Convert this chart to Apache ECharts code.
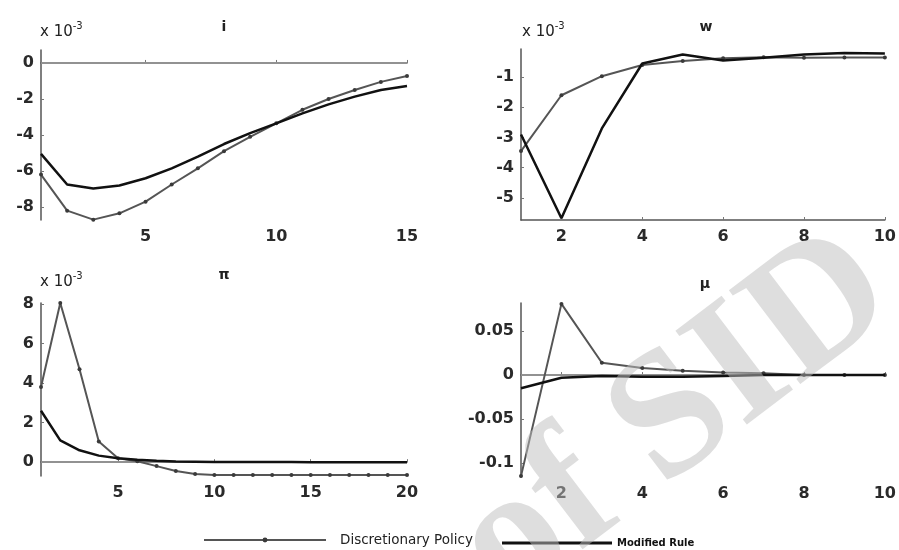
<!DOCTYPE html>
<html>
<head>
<meta charset="utf-8">
<script src="https://cdn.jsdelivr.net/npm/echarts@6/dist/echarts.min.js"></script>
<style>html,body{margin:0;padding:0;background:#fff;}#c{width:899px;height:550px;}</style>
</head>
<body>
<div id="c"></div>
<script>
// ---- data ----
const seriesNames = ['Discretionary Policy', 'Modified Rule'];
const panelTitles = ['i', 'w', 'π', 'μ'];
const watermarkText = 'of SID';

const iX = [1,2,3,4,5,6,7,8,9,10,11,12,13,14,15];
const iDisc = [-6.2,-8.2,-8.7,-8.35,-7.7,-6.75,-5.85,-4.9,-4.1,-3.35,-2.6,-2.0,-1.5,-1.05,-0.72];
const iMod  = [-5.05,-6.75,-6.97,-6.8,-6.4,-5.85,-5.2,-4.5,-3.9,-3.35,-2.8,-2.3,-1.87,-1.5,-1.28];

const wX = [1,2,3,4,5,6,7,8,9,10];
const wDisc = [-3.45,-1.6,-0.97,-0.6,-0.47,-0.38,-0.34,-0.36,-0.35,-0.35];
const wMod  = [-2.9,-5.67,-2.7,-0.55,-0.25,-0.45,-0.36,-0.25,-0.2,-0.22];

const piX = [1,2,3,4,5,6,7,8,9,10,11,12,13,14,15,16,17,18,19,20];
const piDisc = [3.8,8.05,4.7,1.05,0.2,0.05,-0.2,-0.45,-0.6,-0.65,-0.65,-0.65,-0.65,-0.65,-0.65,-0.65,-0.65,-0.65,-0.65,-0.65];
const piMod  = [2.6,1.1,0.6,0.33,0.2,0.12,0.07,0.03,0.02,0.01,0.01,0.01,0.01,0.01,0.0,0.0,0.0,0.0,0.0,0.0];

const muX = [1,2,3,4,5,6,7,8,9,10];
const muDisc = [-0.115,0.081,0.014,0.008,0.005,0.003,0.002,0.0,0.0,0.0];
const muMod  = [-0.015,-0.003,-0.001,-0.002,-0.002,-0.001,0.0,0.0,0.0,0.0];

const xTicks = [[5,10,15],[2,4,6,8,10],[5,10,15,20],[2,4,6,8,10]];
const yTicks = [[-8,-6,-4,-2,0],[-5,-4,-3,-2,-1],[0,2,4,6,8],[-0.1,-0.05,0,0.05]];
const xRange = [[1,15],[1,10],[1,20],[1,10]];
const yRange = [[-8.72,0.72],[-5.73,-0.07],[-0.7,8.05],[-0.116,0.082]];
const hasZero = [true,false,true,true];

// ---- layout ----
const grids = [
  {left:41, top:50, width:366, height:170},
  {left:521, top:49, width:366, height:171},
  {left:41, top:303, width:366, height:173},
  {left:521, top:303, width:366, height:174}
];
const FONT = 'DejaVu Sans';
const pairs = (xs, ys) => xs.map((x,k)=>[x, ys[k]]);
const xs = [iX, wX, piX, muX];
const discs = [iDisc, wDisc, piDisc, muDisc];
const mods = [iMod, wMod, piMod, muMod];

const axisLine = {show:true, lineStyle:{color:'#555', width:1.5}};
const xAxis = [], yAxis = [], series = [];
for (let k=0;k<4;k++){
  xAxis.push({
    type:'value', gridIndex:k, min:xRange[k][0], max:xRange[k][1],
    axisLine:axisLine, splitLine:{show:false},
    axisTick:{show:true, inside:true, length:3, customValues:xTicks[k], lineStyle:{color:'#777'}},
    axisLabel:{customValues:xTicks[k], margin:9, color:'#2a2a2a', fontFamily:FONT, fontSize:16, fontWeight:'bold'}
  });
  yAxis.push({
    type:'value', gridIndex:k, min:yRange[k][0], max:yRange[k][1],
    axisLine:axisLine, splitLine:{show:false},
    axisTick:{show:true, inside:true, length:3, customValues:yTicks[k], lineStyle:{color:'#777'}},
    axisLabel:{customValues:yTicks[k], margin:7, color:'#2a2a2a', fontFamily:FONT, fontSize:16, fontWeight:'bold'}
  });
  const disc = {
    name:seriesNames[0], type:'line', xAxisIndex:k, yAxisIndex:k,
    data:pairs(xs[k], discs[k]), symbol:'circle', symbolSize:4, showSymbol:true,
    itemStyle:{color:'#3a3a3a'}, lineStyle:{color:'#555', width:2}, z:3, animation:false
  };
  if (hasZero[k]) {
    disc.markLine = {silent:true, symbol:['none','none'], label:{show:false},
      lineStyle:{color:'#999', type:'solid', width:1.5}, data:[{yAxis:0}], z:1, animation:false};
  }
  series.push(disc);
  series.push({
    name:seriesNames[1], type:'line', xAxisIndex:k, yAxisIndex:k,
    data:pairs(xs[k], mods[k]), symbol:'none',
    itemStyle:{color:'#111'}, lineStyle:{color:'#111', width:2.5}, z:4, animation:false
  });
}

const titlePos = [[224,27],[706,27],[224,275],[705,284]];
const expPos = [[40,32],[522,32],[40,282]];
const graphic = [];
titlePos.forEach((p,k)=>graphic.push({type:'text', x:p[0], y:p[1], style:{text:panelTitles[k], font:'bold 14px "DejaVu Sans"', fill:'#222', align:'center', verticalAlign:'middle'}}));
expPos.forEach(p=>graphic.push({type:'text', x:p[0], y:p[1], style:{
  text:'{b|x 10}{s|-3}', align:'left', verticalAlign:'middle',
  rich:{b:{font:'15px "DejaVu Sans"', fill:'#222'}, s:{font:'10px "DejaVu Sans"', fill:'#222', verticalAlign:'top', padding:[0,0,12,0]}}
}}));
// faint watermark lying over the lower-right panel
graphic.push({type:'text', x:676, y:420, rotation:0.65, z:100, silent:true, style:{
  text:watermarkText, font:'bold 180px "Liberation Serif"', fill:'rgba(189,189,189,0.5)',
  align:'center', verticalAlign:'middle'}});

const option = {
  backgroundColor:'#fff',
  animation:false,
  grid:grids,
  xAxis:xAxis, yAxis:yAxis, series:series,
  legend:[
    {data:[seriesNames[0]], left:198, top:528, itemWidth:122, itemHeight:6, selectedMode:false,
     textStyle:{fontFamily:FONT, fontSize:13.5, color:'#222', padding:[0,0,0,9]}},
    {data:[{name:seriesNames[1], icon:'rect'}], left:497, top:533, itemWidth:110, itemHeight:3, itemGap:0, selectedMode:false,
     itemStyle:{color:'#111'},
     textStyle:{fontFamily:FONT, fontSize:10, fontWeight:'bold', color:'#111', padding:[0,0,0,0]}}
  ],
  graphic:graphic
};
const chart = echarts.init(document.getElementById('c'), null, {renderer:'canvas'});
chart.setOption(option);
</script>
</body>
</html>
